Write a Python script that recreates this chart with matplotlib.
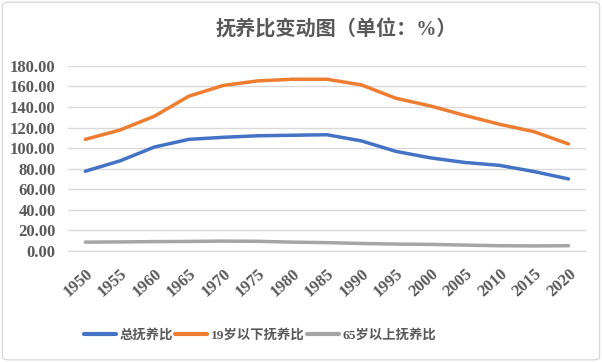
import matplotlib
matplotlib.use("Agg")
import matplotlib.pyplot as plt
from matplotlib.patches import FancyBboxPatch

years = ["1950", "1955", "1960", "1965", "1970", "1975", "1980", "1985",
         "1990", "1995", "2000", "2005", "2010", "2015", "2020"]
total = [77.5, 87.5, 101.0, 108.5, 110.5, 112.0, 112.5, 113.0,
         107.0, 96.8, 90.5, 86.0, 83.2, 77.2, 70.0]
young = [108.5, 117.5, 131.0, 150.5, 161.0, 165.4, 167.0, 167.0,
         161.5, 148.5, 141.0, 131.8, 123.2, 116.0, 104.0]
old = [8.5, 8.7, 9.0, 9.2, 9.5, 9.3, 8.5, 8.0,
       7.2, 6.6, 6.3, 5.6, 5.0, 4.8, 5.0]
names = ["总抚养比", "19岁以下抚养比", "65岁以上抚养比"]
colors = ["#4472C4", "#ED7D31", "#A5A5A5"]
yticks = [0, 20, 40, 60, 80, 100, 120, 140, 160, 180]

fam = ["Liberation Serif", "Noto Sans CJK SC", "DejaVu Sans"]
plt.rcParams['font.family'] = fam
txt = "#595959"

fig = plt.figure(figsize=(6.02, 3.62), dpi=100)
bg = FancyBboxPatch((0.004, 0.006), 0.992, 0.988,
                    boxstyle="round,pad=0,rounding_size=0.01",
                    transform=fig.transFigure, fc="white",
                    ec="#D9D9D9", lw=1.0, zorder=-10)
fig.patches.append(bg)
ax = fig.add_axes([0.113, 0.307, 0.86, 0.511])
ax.set_facecolor("none")
x = list(range(len(years)))
for s, c, n in zip([total, young, old], colors, names):
    ax.plot(x, s, color=c, lw=2.5, label=n, solid_capstyle="round")

ax.set_xlim(-0.5, len(years) - 0.5)
ax.set_ylim(0, 180)
ax.set_yticks(yticks)
ax.set_yticklabels([f"{v:.2f}" for v in yticks], fontsize=12,
                   fontweight="bold", color=txt)
ax.set_xticks(x)
ax.set_xticklabels(years, rotation=42, ha="right", va="top",
                   rotation_mode="anchor", fontsize=12, fontweight="bold",
                   color=txt)
ax.tick_params(axis="y", length=0, pad=9)
ax.tick_params(axis="x", length=0, pad=11)
ax.grid(axis="y", color="#D9D9D9", lw=1)
ax.set_axisbelow(True)
for sp in ["top", "right", "left"]:
    ax.spines[sp].set_visible(False)
ax.spines["bottom"].set_color("#D9D9D9")

fig.text(0.558, 0.915, "抚养比变动图（单位：%）", ha="center", va="center",
         fontsize=14.5, fontweight="bold", color=txt, family=fam)

leg = fig.legend(loc="center", bbox_to_anchor=(0.432, 0.073), ncol=3,
                 frameon=False, handlelength=2.4, handletextpad=0.25,
                 columnspacing=0.2, prop={"family": fam, "size": 9.6, "weight": "bold"})
for t in leg.get_texts():
    t.set_color(txt)
for h in leg.get_lines():
    h.set_linewidth(3)

fig.savefig("out.png", dpi=100)
